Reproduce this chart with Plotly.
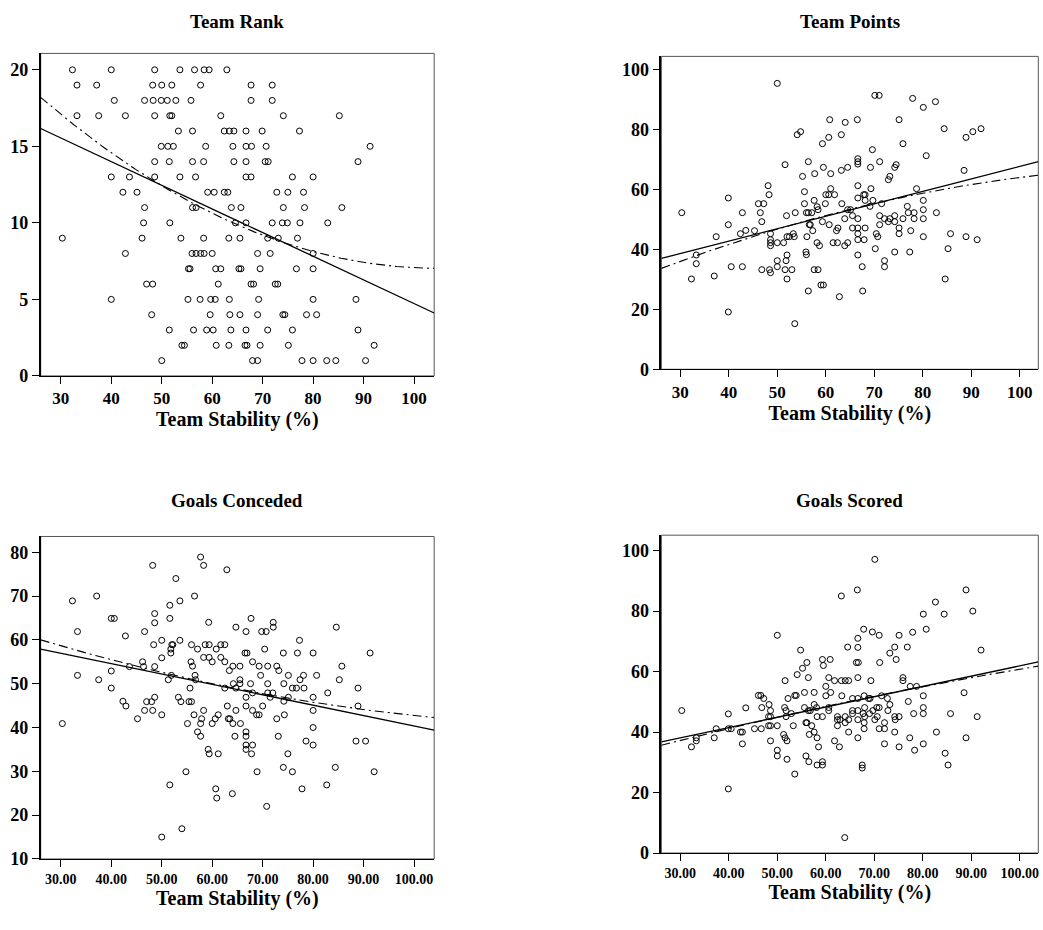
import plotly.graph_objects as go
import numpy as np

# ---------------- DATA ----------------
# Panel 1: Team Rank vs Team Stability (%)
rank_stability = [
    32.3, 40.0, 48.6, 53.6, 56.5, 58.4, 59.4, 62.9,
    33.2, 37.1, 48.2, 50.0, 52.0, 57.7, 67.7, 71.9,
    40.6, 46.6, 48.3, 49.9, 51.1, 52.8, 55.8, 67.7, 71.9,
    33.2, 37.5, 42.8, 48.6, 51.6, 52.0, 61.7, 74.1, 85.2,
    53.3, 56.1, 62.4, 63.4, 64.3, 66.7, 69.9, 77.3,
    49.9, 51.2, 52.3, 58.7, 64.1, 66.7, 67.8, 70.7, 91.3,
    48.6, 51.5, 56.1, 58.3, 64.3, 66.7, 70.5, 71.1, 88.9,
    40.0, 43.6, 48.6, 53.6, 56.7, 66.7, 67.7, 75.9, 80.0,
    42.3, 45.1, 59.1, 60.4, 62.4, 63.1, 72.8, 75.0, 78.1,
    46.6, 56.1, 56.8, 63.8, 65.7, 74.1, 78.3, 85.7,
    46.4, 51.6, 64.6, 66.7, 71.9, 73.9, 74.9, 77.4, 82.9,
    30.3, 46.1, 53.8, 58.3, 63.3, 65.5, 71.0, 73.1, 76.9,
    42.8, 56.0, 56.8, 57.7, 58.4, 60.0, 69.0, 71.5, 80.0,
    55.3, 55.6, 60.7, 61.7, 65.3, 65.7, 69.5, 76.7, 80.0,
    47.0, 48.2, 61.2, 67.7, 68.2, 72.5, 73.0,
    40.0, 55.2, 57.6, 59.7, 60.6, 63.4, 69.2, 80.0, 88.5,
    48.0, 59.6, 63.5, 65.5, 69.0, 74.0, 74.4, 78.7, 80.7,
    51.5, 56.3, 58.9, 60.2, 63.7, 66.7, 71.0, 75.9, 88.9,
    54.0, 54.5, 60.8, 63.3, 66.5, 66.9, 69.5, 75.1, 92.1,
    50.0, 68.0, 69.0, 77.8, 80.0, 82.7, 84.5, 90.4,
]
rank_value = (
    [20] * 8 + [19] * 8 + [18] * 9 + [17] * 9 + [16] * 8 + [15] * 9 + [14] * 9 +
    [13] * 9 + [12] * 9 + [11] * 8 + [10] * 9 + [9] * 9 + [8] * 9 + [7] * 9 +
    [6] * 7 + [5] * 9 + [4] * 9 + [3] * 9 + [2] * 9 + [1] * 8
)

# Panel 2: Team Points
points_pairs = [
    (30.3, 52.2), (39.9, 57.1), (42.8, 52.2), (39.9, 48.2), (42.4, 45.2), (43.5, 46.3), (37.4, 44.2),
    (33.3, 38.1), (33.3, 35.2), (32.3, 30.1), (37.0, 31.1), (40.5, 34.2), (42.8, 34.2), (39.9, 19.1),
    (50.0, 95.3), (60.8, 83.2), (64.0, 82.3), (66.5, 83.2), (54.1, 78.2), (54.8, 79.2), (63.2, 78.2),
    (60.6, 77.3), (59.3, 75.2), (66.6, 70.2), (66.6, 69.2), (66.6, 68.4), (51.6, 68.2), (56.4, 69.2),
    (59.5, 67.3), (64.5, 67.3), (63.2, 66.3), (55.2, 64.3), (57.7, 65.2), (61.0, 65.2),
    (48.1, 61.2), (48.3, 58.2), (46.1, 55.2), (47.2, 55.2), (46.5, 52.2), (46.8, 49.2), (45.3, 46.2),
    (48.6, 45.2), (48.6, 43.2), (48.6, 42.2), (48.6, 41.2), (50.0, 42.2), (51.3, 42.2), (51.9, 51.2),
    (52.0, 44.2), (52.5, 44.2), (53.3, 45.2), (53.5, 44.2), (53.7, 52.2), (55.6, 55.2), (55.6, 59.2),
    (56.0, 52.2), (56.4, 52.2), (57.1, 52.2), (57.6, 56.3), (58.2, 54.2), (58.4, 53.2), (56.6, 48.2),
    (56.8, 48.2), (57.3, 46.2), (56.1, 44.2), (55.9, 39.1), (56.0, 38.2), (58.2, 42.2), (58.7, 41.2),
    (59.3, 49.2), (59.9, 55.2), (60.6, 58.2), (61.0, 60.2), (61.8, 58.2), (60.0, 58.2), (60.7, 48.2),
    (61.5, 42.2), (62.4, 42.2), (62.2, 46.2), (62.5, 47.1), (63.3, 55.2), (63.9, 50.2), (64.5, 53.2),
    (65.1, 53.2), (63.9, 41.2), (64.5, 42.2), (65.5, 51.2), (65.5, 47.1), (66.6, 47.1), (66.6, 45.2),
    (66.6, 43.2), (66.6, 50.2), (66.6, 38.1), (66.6, 57.1), (66.6, 61.2), (67.5, 34.2), (67.6, 26.1),
    (46.8, 33.2), (48.4, 33.2), (48.6, 32.2), (50.0, 34.2), (50.0, 36.2), (51.8, 36.2), (52.0, 38.1),
    (51.6, 33.2), (53.0, 33.2), (52.0, 30.1), (57.6, 33.2), (58.4, 33.2), (59.0, 28.1), (59.5, 28.1),
    (56.4, 26.1), (62.8, 24.2), (53.6, 15.2),
    (70.1, 91.3), (71.0, 91.3), (77.9, 90.3), (82.6, 89.2), (80.1, 87.3), (75.1, 83.2), (84.4, 80.2),
    (88.9, 77.3), (90.3, 79.2), (92.0, 80.2), (75.9, 75.2), (69.6, 73.2), (80.7, 71.2), (71.1, 69.2),
    (69.2, 67.3), (74.2, 67.3), (74.5, 68.2), (73.2, 64.3), (72.9, 63.2), (88.5, 66.3), (69.3, 60.2),
    (78.7, 60.2), (67.8, 58.2), (68.1, 58.2), (68.1, 56.3), (69.7, 56.3), (69.1, 54.3), (71.5, 55.2),
    (80.1, 56.3), (76.8, 54.3), (77.0, 52.2), (78.2, 52.2), (80.1, 53.2), (80.1, 50.2), (82.8, 52.2),
    (71.1, 51.2), (72.1, 50.2), (73.2, 50.2), (72.9, 49.2), (74.2, 51.2), (74.2, 49.2), (75.9, 50.2),
    (78.2, 50.2), (71.1, 48.2), (75.1, 47.1), (75.1, 45.2), (77.5, 46.2), (70.4, 45.2), (70.7, 44.2),
    (68.1, 47.1), (67.9, 43.2), (80.1, 44.2), (85.7, 45.2), (88.9, 44.2), (91.2, 43.2), (70.2, 40.2),
    (74.2, 39.1), (77.3, 39.1), (85.2, 40.2), (72.1, 36.2), (72.1, 34.2), (84.6, 30.1),
]
points_stability = [p[0] for p in points_pairs]
points_value = [p[1] for p in points_pairs]

# Panel 3: Goals Conceded
conceded_pairs = [
    (48.2, 77.0), (32.3, 68.9), (37.1, 70.0), (40.0, 64.9), (40.6, 64.9), (33.3, 61.9), (42.8, 60.9),
    (46.6, 61.9), (48.6, 66.0), (48.6, 63.9), (50.0, 59.9), (48.4, 58.9), (50.0, 55.9), (46.2, 55.0),
    (46.4, 53.9), (48.6, 53.9), (43.6, 53.9), (40.0, 52.9), (33.3, 51.9), (37.5, 50.9), (40.0, 49.0),
    (42.3, 46.0), (42.9, 44.9), (47.0, 45.9), (48.0, 45.9), (48.6, 46.9), (46.6, 43.9), (48.2, 43.9),
    (45.2, 42.0), (50.0, 42.9), (30.3, 40.9), (50.0, 15.0),
    (57.7, 78.9), (58.3, 77.0), (62.9, 76.0), (52.8, 74.0), (56.5, 70.0), (51.6, 67.9), (53.6, 68.9),
    (51.6, 64.9), (59.3, 64.0), (64.7, 62.9), (66.7, 61.9), (67.7, 64.9), (69.8, 61.9), (70.7, 61.9),
    (72.1, 64.0), (72.1, 62.9), (52.0, 58.9), (52.2, 58.9), (51.8, 57.9), (51.8, 57.0), (53.6, 59.9),
    (55.9, 58.9), (57.1, 57.9), (58.6, 58.9), (59.4, 58.9), (60.8, 57.9), (61.7, 58.9), (62.5, 58.9),
    (58.3, 56.0), (59.4, 56.0), (60.0, 55.0), (61.7, 56.0), (62.5, 55.0), (63.4, 53.0), (64.1, 54.0),
    (65.5, 54.0), (66.5, 57.0), (66.9, 57.0), (68.0, 55.0), (69.3, 54.0), (71.0, 54.0), (72.8, 54.0),
    (73.2, 53.0), (70.4, 57.9), (74.1, 57.0), (55.8, 55.0), (56.1, 54.0), (56.6, 51.9), (56.7, 50.9),
    (51.9, 51.9), (51.3, 50.9), (55.6, 49.0), (62.5, 49.0), (64.2, 50.0), (65.5, 50.9), (65.5, 50.0),
    (64.7, 49.0), (67.6, 50.0), (68.0, 47.9), (66.7, 46.9), (69.6, 51.9), (71.0, 50.0), (71.0, 47.9),
    (72.0, 47.9), (71.5, 46.9), (74.2, 50.0), (75.1, 51.9), (75.1, 46.9), (74.2, 46.0), (53.3, 46.9),
    (53.8, 45.9), (55.4, 45.9), (55.9, 45.9), (58.3, 43.9), (56.4, 42.9), (55.1, 40.9), (57.9, 42.0),
    (57.7, 40.9), (60.0, 40.9), (60.6, 42.0), (61.2, 42.9), (63.0, 44.9), (63.2, 42.0), (63.5, 42.0),
    (64.1, 40.9), (64.7, 43.9), (65.6, 40.9), (66.7, 44.9), (68.0, 43.9), (68.8, 42.9), (69.3, 42.9),
    (70.0, 44.9), (72.8, 42.0), (74.3, 42.9), (57.1, 39.0), (57.7, 38.0), (64.5, 38.0), (66.7, 39.0),
    (66.7, 38.0), (73.1, 38.0), (66.7, 36.0), (68.0, 36.0), (66.7, 35.0), (67.8, 34.0), (59.2, 35.0),
    (59.4, 34.0), (61.2, 34.0), (75.0, 34.0), (74.1, 30.9), (68.9, 29.9), (54.8, 29.9), (51.6, 26.9),
    (60.7, 26.0), (60.9, 23.9), (64.0, 24.9), (70.8, 22.0), (54.0, 16.9),
    (84.6, 62.9), (77.3, 59.9), (76.9, 57.0), (80.0, 57.0), (91.3, 57.0), (85.7, 54.0), (78.1, 51.9),
    (80.7, 51.9), (85.2, 50.9), (77.4, 50.9), (75.9, 49.0), (76.7, 49.0), (78.2, 49.0), (88.9, 49.0),
    (82.9, 47.9), (80.0, 46.9), (88.9, 44.9), (80.0, 43.9), (80.0, 40.0), (78.6, 36.9), (80.0, 36.0),
    (88.5, 36.9), (90.4, 36.9), (75.9, 29.9), (84.4, 30.9), (92.1, 29.9), (82.7, 26.9), (77.8, 26.0),
]
conceded_stability = [p[0] for p in conceded_pairs]
conceded_value = [p[1] for p in conceded_pairs]

# Panel 4: Goals Scored
scored_pairs = [
    (30.3, 47.1), (39.9, 46.0), (43.5, 48.0), (37.4, 41.1), (39.9, 41.1), (40.5, 41.1), (42.4, 40.0),
    (42.8, 40.0), (33.3, 38.1), (33.3, 37.1), (32.3, 35.1), (37.0, 38.1), (42.8, 36.1), (39.9, 21.2),
    (66.5, 87.0), (63.2, 85.0), (50.0, 72.0), (67.8, 74.0), (66.6, 71.0), (66.6, 68.0), (64.5, 68.1),
    (54.8, 67.1), (59.3, 64.0), (60.9, 64.0), (59.5, 62.0), (66.3, 63.0), (66.7, 63.0), (56.1, 63.0),
    (55.2, 61.1), (54.1, 59.0), (56.4, 58.0), (51.6, 57.0), (60.6, 58.0), (61.8, 57.0), (63.2, 57.0),
    (64.0, 57.0), (64.7, 57.0), (66.6, 58.0), (60.0, 55.1), (61.0, 53.1), (60.0, 52.0), (63.3, 52.0),
    (55.6, 53.1), (57.6, 53.1), (52.2, 51.1), (53.6, 52.1), (53.9, 52.1), (46.1, 52.1), (46.6, 52.1),
    (47.2, 51.1), (46.8, 48.1), (48.3, 49.1), (48.6, 47.1), (48.2, 45.1), (48.6, 45.1), (51.5, 48.1),
    (51.8, 47.1), (51.8, 45.1), (52.9, 46.1), (55.6, 48.1), (56.8, 47.1), (57.6, 49.1), (58.1, 48.1),
    (56.4, 47.1), (60.6, 48.1), (60.6, 47.1), (65.5, 51.1), (66.6, 51.1), (67.9, 52.0), (68.8, 51.1),
    (65.5, 47.1), (65.5, 46.1), (66.6, 47.1), (68.0, 48.1), (67.7, 46.1), (68.0, 45.1), (66.6, 44.1),
    (67.9, 43.1), (67.9, 41.1), (62.4, 45.1), (62.4, 44.1), (62.9, 44.1), (62.4, 42.1), (64.0, 45.1),
    (64.0, 43.1), (64.7, 44.1), (58.2, 45.1), (59.3, 45.1), (55.9, 43.1), (56.1, 43.1), (57.1, 42.1),
    (53.3, 42.1), (45.3, 41.1), (46.7, 41.1), (48.2, 42.1), (48.6, 42.1), (50.0, 42.1), (48.6, 37.1),
    (51.3, 39.2), (51.6, 38.1), (52.0, 37.1), (56.6, 39.2), (57.6, 40.0), (58.2, 38.1), (58.5, 35.1),
    (61.8, 37.1), (62.8, 35.1), (64.7, 40.0), (66.6, 38.1), (50.0, 34.0), (50.0, 32.1), (52.0, 31.0),
    (55.9, 32.1), (56.5, 30.2), (58.2, 29.1), (59.3, 30.2), (59.3, 29.1), (53.6, 26.1), (67.5, 29.1),
    (67.5, 28.1), (63.9, 5.1),
    (70.1, 97.1), (88.9, 87.0), (82.6, 83.0), (80.1, 79.0), (84.4, 79.0), (90.3, 80.0), (69.6, 73.1),
    (71.0, 72.0), (77.9, 73.0), (80.7, 74.0), (75.1, 72.0), (74.2, 68.1), (73.2, 66.1), (74.5, 64.0),
    (76.8, 68.1), (92.0, 67.1), (71.1, 63.0), (69.3, 57.0), (75.9, 58.0), (75.9, 57.0), (77.4, 55.1),
    (78.7, 55.1), (80.1, 52.0), (88.5, 53.0), (69.1, 51.1), (71.5, 52.0), (72.7, 51.1), (73.2, 49.1),
    (72.8, 47.1), (77.0, 50.1), (69.0, 46.1), (69.7, 47.1), (70.5, 48.1), (71.0, 48.1), (70.6, 45.1),
    (70.1, 44.1), (71.0, 41.1), (72.1, 41.1), (72.1, 43.1), (74.2, 45.1), (74.3, 44.1), (75.1, 45.1),
    (78.1, 46.1), (80.1, 46.1), (80.1, 48.1), (85.7, 46.1), (91.2, 45.1), (74.2, 40.0), (82.8, 40.0),
    (77.3, 38.1), (88.9, 38.1), (72.1, 36.1), (75.1, 35.1), (78.3, 34.0), (80.1, 36.1), (84.6, 33.0),
    (85.2, 29.1),
]
scored_stability = [p[0] for p in scored_pairs]
scored_value = [p[1] for p in scored_pairs]

# Fit lines: linear (intercept, slope), quadratic (a, b, c)
linear_fits = [(20.18, -0.1545), (26.13, 0.415), (64.06, -0.237), (27.89, 0.340)]
quad_fits = [(26.81, -0.3781, 0.001807), (15.70, 0.7594, -0.002769),
             (70.04, -0.4257, 0.001526), (24.27, 0.4615, -0.000963)]

titles = ["Team Rank", "Team Points", "Goals Conceded", "Goals Scored"]
x_title = "Team Stability (%)"
x_ticks = [30, 40, 50, 60, 70, 80, 90, 100]
x_ticktext_int = ["30", "40", "50", "60", "70", "80", "90", "100"]
x_ticktext_dec = ["30.00", "40.00", "50.00", "60.00", "70.00", "80.00", "90.00", "100.00"]
y_ticks = [[0, 5, 10, 15, 20], [0, 20, 40, 60, 80, 100],
           [10, 20, 30, 40, 50, 60, 70, 80], [0, 20, 40, 60, 80, 100]]

# ---------------- LAYOUT (pixel boxes) ----------------
W, H = 1043, 930
# (left, right, top, bottom) in px
boxes = [(40.7, 434.6, 54, 380), (662, 1039.3, 57, 373.3),
         (40.7, 434.6, 542.3, 868.3), (662, 1039.3, 541, 862.3)]
x_ranges = [[26.0, 104.0], [26.1, 103.8], [26.0, 104.0], [26.1, 103.8]]
y_ranges = [[0, 21.07], [0, 104.3], [10, 83.6], [0, 105.1]]
title_y_px = [22, 22, 506, 506]

datasets = [(rank_stability, rank_value), (points_stability, points_value),
            (conceded_stability, conceded_value), (scored_stability, scored_value)]

FONT = "Liberation Serif, Times New Roman, serif"
fig = go.Figure()

for i in range(4):
    ax = "" if i == 0 else str(i + 1)
    xs, ys = datasets[i]
    fig.add_trace(go.Scatter(
        x=xs, y=ys, mode="markers", xaxis="x" + ax, yaxis="y" + ax,
        marker=dict(symbol="circle-open", size=6, color="black", line=dict(width=1, color="black")),
        showlegend=False, hoverinfo="x+y"))
    xl = np.linspace(x_ranges[i][0], x_ranges[i][1], 200)
    a0, a1 = linear_fits[i]
    fig.add_trace(go.Scatter(x=xl, y=a0 + a1 * xl, mode="lines", xaxis="x" + ax, yaxis="y" + ax,
                             line=dict(color="black", width=1.3), showlegend=False, hoverinfo="skip"))
    q0, q1, q2 = quad_fits[i]
    fig.add_trace(go.Scatter(x=xl, y=q0 + q1 * xl + q2 * xl ** 2, mode="lines", xaxis="x" + ax, yaxis="y" + ax,
                             line=dict(color="black", width=1.1, dash="9px,4px,2px,4px"),
                             showlegend=False, hoverinfo="skip"))

    l, r, t, b = boxes[i]
    fig.layout["xaxis" + ax] = dict(
        domain=[l / W, r / W], range=x_ranges[i], anchor="y" + ax,
        showline=True, linecolor="black", linewidth=1.3, mirror=False,
        ticks="outside", ticklen=7, tickwidth=1, tickcolor="black",
        tickvals=x_ticks, ticktext=x_ticktext_int if i < 2 else x_ticktext_dec,
        showgrid=False, zeroline=False,
        tickfont=dict(family=FONT, size=17 if i < 2 else 14, color="black", weight="bold"),
        title=dict(text=x_title, font=dict(family=FONT, size=20, color="black", weight="bold"), standoff=4),
    )
    fig.layout["yaxis" + ax] = dict(
        domain=[1 - b / H, 1 - t / H], range=y_ranges[i], anchor="x" + ax,
        showline=True, linecolor="black", linewidth=1.5, mirror=False,
        ticks="outside", ticklen=7, tickwidth=1, tickcolor="black",
        tickvals=y_ticks[i], showgrid=False, zeroline=False,
        tickfont=dict(family=FONT, size=18, color="black", weight="bold"),
    )
    # frame (top/right)
    fig.add_shape(type="rect", xref="paper", yref="paper",
                  x0=l / W, x1=r / W, y0=1 - b / H, y1=1 - t / H,
                  line=dict(color="#555555", width=1), layer="below")
    fig.add_annotation(text="<b>" + titles[i] + "</b>", xref="paper", yref="paper",
                       x=(l + r) / 2 / W, y=1 - title_y_px[i] / H, showarrow=False,
                       font=dict(family=FONT, size=19, color="black"), xanchor="center", yanchor="middle")

fig.update_layout(width=W, height=H, margin=dict(l=0, r=0, t=0, b=0),
                  paper_bgcolor="white", plot_bgcolor="white")
fig.write_html("out.html", config={"displayModeBar": False},
               post_script="document.body.style.margin='0';document.body.style.overflow='hidden';"
                           "document.documentElement.style.overflow='hidden';")
